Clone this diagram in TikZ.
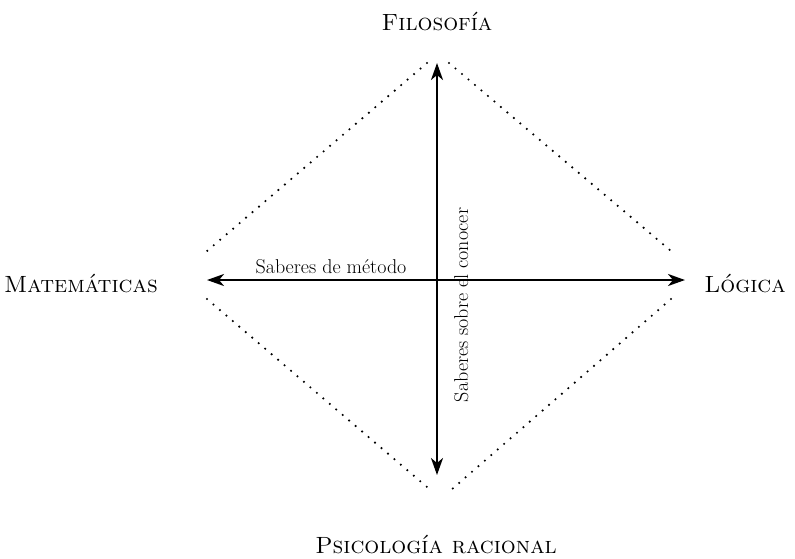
\documentclass[tikz,border=0pt]{standalone}
\usepackage{fontspec}
\usetikzlibrary{arrows.meta, positioning}
\tikzstyle{field} = [font=\fontsize{23.5}{28}\selectfont\scshape, inner sep=0pt]
\tikzstyle{axislabel} = [font=\fontsize{20}{24}\selectfont, inner sep=0pt]
\tikzstyle{arrow} = [line width=2.3pt, {Stealth[length=17pt,width=12pt,inset=5pt]}-{Stealth[length=17pt,width=12pt,inset=5pt]}]
\tikzstyle{border} = [line width=2.4pt, line cap=round, dash pattern=on 0pt off 8.5pt]

\begin{document}
\begin{tikzpicture}[x=1pt, y=-1pt]
	\useasboundingbox (0,0) rectangle (795,558);

	% Fields
	\node (fil) [field] at (437,22) {Filosofía};
	\node (psi) [field] at (436,545) {Psicología racional};
	\node (mat) [field] at (81,284) {Matemáticas};
	\node (log) [field] at (745,284) {Lógica};

	% Arrow ends
	\coordinate (west) at (207,280);
	\coordinate (east) at (685,280);
	\coordinate (north) at (437,63);
	\coordinate (south) at (437,475);

	% Diamond corners
	\coordinate (nw) at (427,63);
	\coordinate (ne) at (449,63);
	\coordinate (wn) at (207,251);
	\coordinate (ws) at (207,299);
	\coordinate (en) at (671,251);
	\coordinate (es) at (671,299);
	\coordinate (sw) at (427,487);
	\coordinate (se) at (451,490);

	% Diamond
	\draw [border] (nw) -- (wn);
	\draw [border] (ne) -- (en);
	\draw [border] (ws) -- (sw);
	\draw [border] (es) -- (se);

	% Axes
	\draw [arrow] (west) -- (east);
	\draw [arrow] (north) -- (south);

	% Axis labels
	\node (metodo) [axislabel, anchor=base] at (331,273) {Saberes de método};
	\node (conocer) [axislabel, rotate=90, anchor=base] at (468,305) {Saberes sobre el conocer};

\end{tikzpicture}
\end{document}
